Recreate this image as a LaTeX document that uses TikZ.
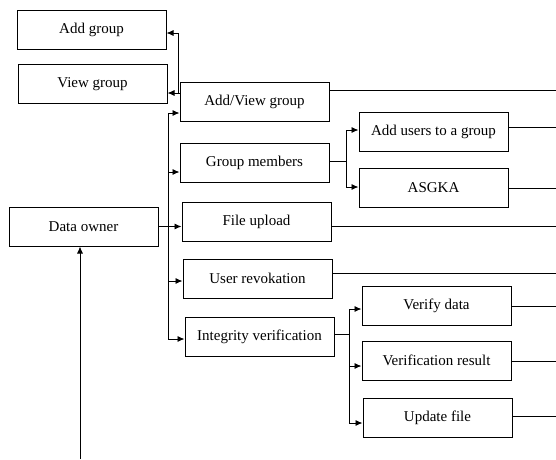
\documentclass[tikz,border=0pt]{standalone}
\usepackage{fontspec}
\setmainfont{Liberation Serif}
\usetikzlibrary{arrows.meta}
\begin{document}
\begin{tikzpicture}[x=1pt,y=-1pt,
  box/.style={draw, line width=1pt, minimum width=149pt, minimum height=39pt, inner sep=0pt,
    font=\fontsize{15}{17}\selectfont},
  con/.style={line width=0.9pt},
  arr/.style={con, -{Latex[length=7pt,width=6pt]}}]
\useasboundingbox (0,0) rectangle (556,459);
% boxes
\node[box] (addg) at (91.5,30) {Add group};
\node[box] (viewg) at (92.5,84) {View group};
\node[box] (addview) at (254.5,101.5) {Add/View group};
\node[box] (members) at (254.5,163) {Group members};
\node[box] (upload) at (256.5,221.5) {File upload};
\node[box] (revoke) at (257.5,278.5) {User revokation};
\node[box] (integ) at (259.5,337) {Integrity verification};
\node[box] (owner) at (83.5,226.5) {Data owner};
\node[box] (addusers) at (433.5,131.5) {Add users to a group};
\node[box] (asgka) at (433.5,187.5) {ASGKA};
\node[box] (verify) at (436.5,306) {Verify data};
\node[box] (vresult) at (436.5,360.5) {Verification result};
\node[box] (update) at (437.5,417.5) {Update file};
% trunk from data owner
\coordinate (t1) at (168,113);
\coordinate (t2) at (168,172);
\coordinate (t4) at (168,281);
\coordinate (t5) at (168,339);
\draw[con] (t1) -- (t5);
\draw[arr] (owner.east) -- (owner.east -| upload.west);
\draw[arr] (t1) -- (t1 -| addview.west);
\draw[arr] (t2) -- (t2 -| members.west);
\draw[arr] (t4) -- (t4 -| revoke.west);
\draw[arr] (t5) -- (t5 -| integ.west);
% add/view group to add group and view group
\coordinate (av) at (178,93);
\coordinate (avt) at (178,33);
\draw[con] (av -| addview.west) -- (av);
\draw[arr] (av) -- (avt) -- (avt -| addg.east);
\draw[arr] (av -| addview.west) -- (av -| viewg.east);
% group members split
\coordinate (m) at (346,161);
\coordinate (mA) at (346,130);
\coordinate (mB) at (346,187);
\draw[con] (members.east |- m) -- (m);
\draw[con] (mA) -- (mB);
\draw[arr] (mA) -- (mA -| addusers.west);
\draw[arr] (mB) -- (mB -| asgka.west);
% integrity split
\coordinate (iv) at (349,334);
\coordinate (iA) at (349,309);
\coordinate (iB) at (349,366);
\coordinate (iC) at (349,423);
\draw[con] (integ.east |- iv) -- (iv);
\draw[con] (iA) -- (iC);
\draw[arr] (iA) -- (iA -| verify.west);
\draw[arr] (iB) -- (iB -| vresult.west);
\draw[arr] (iC) -- (iC -| update.west);
% lines to the right edge
\coordinate (e1) at (556,90);
\coordinate (e2) at (556,127);
\coordinate (e3) at (556,188);
\coordinate (e4) at (556,226);
\coordinate (e5) at (556,273);
\coordinate (e6) at (556,306);
\coordinate (e7) at (556,361);
\coordinate (e8) at (556,416);
\draw[con] (e1 -| addview.east) -- (e1);
\draw[con] (e2 -| addusers.east) -- (e2);
\draw[con] (e3 -| asgka.east) -- (e3);
\draw[con] (e4 -| upload.east) -- (e4);
\draw[con] (e5 -| revoke.east) -- (e5);
\draw[con] (e6 -| verify.east) -- (e6);
\draw[con] (e7 -| vresult.east) -- (e7);
\draw[con] (e8 -| update.east) -- (e8);
% arrow from bottom into data owner
\coordinate (bot) at (80,459);
\draw[arr] (bot) -- (bot |- owner.south);
\end{tikzpicture}
\end{document}
